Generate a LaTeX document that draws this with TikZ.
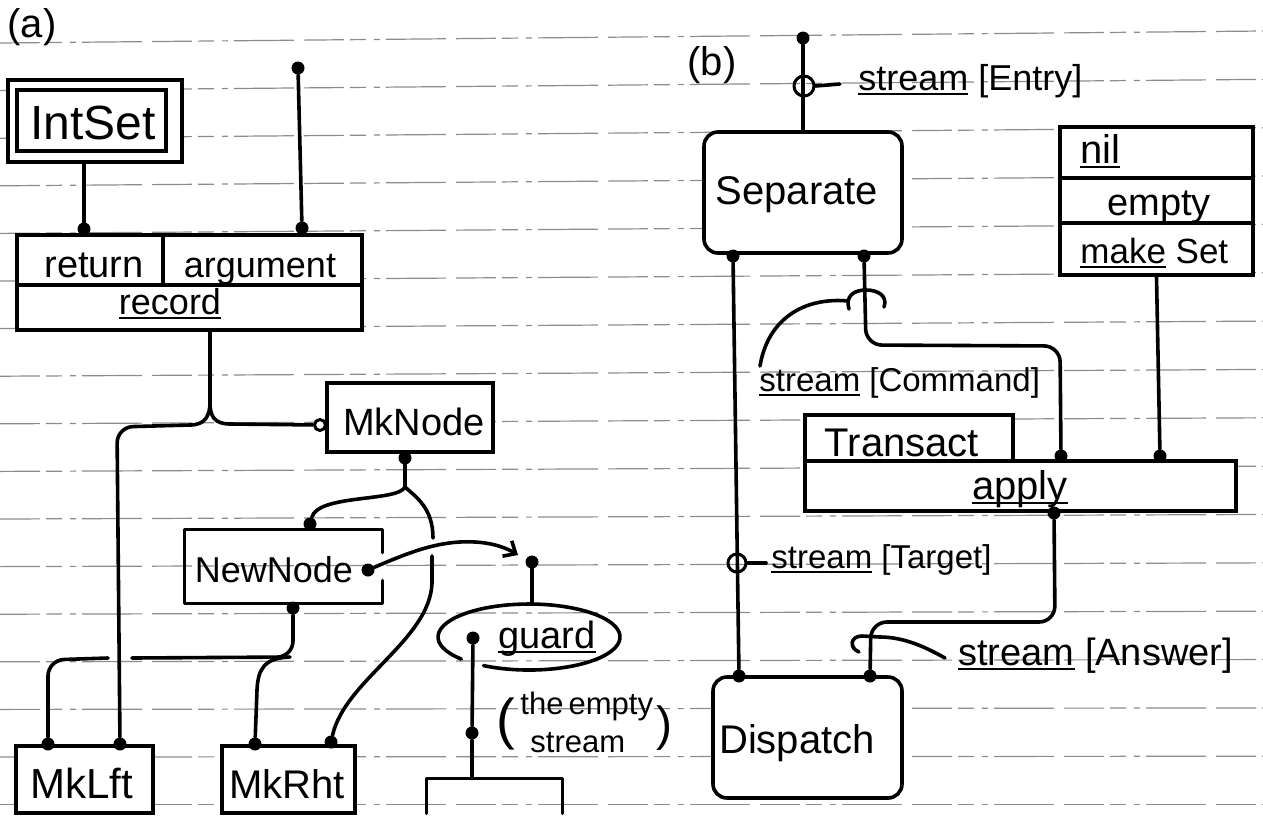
\documentclass[tikz,border=0pt]{standalone}
\usepackage{fontspec}
\setmainfont{Liberation Sans}
\usetikzlibrary{arrows.meta,shapes.geometric,calc}
\newcommand{\hul}[1]{\setbox0\hbox{#1}\rlap{\rule[-2.4pt]{\wd0}{1.1pt}}\box0\relax}
\begin{document}
\begin{tikzpicture}[x=0.5pt,y=-0.5pt,
  ln/.style={line width=1.8pt,line cap=round,line join=round},
  box/.style={draw,line width=1.8pt,fill=white,inner sep=0pt},
  shell/.style={inner sep=0pt},
  dot/.style={circle,fill=black,inner sep=0pt,minimum size=6.5pt},
  odot/.style={circle,draw,fill=white,line width=1.5pt,inner sep=0pt,minimum size=5.5pt},
  loopc/.style={circle,draw,line width=1.5pt,inner sep=0pt,minimum size=#1},
  rule/.style={draw=black!45,line width=0.6pt,dash pattern=on 20pt off 3pt on 8pt off 4pt on 3pt off 3pt on 30pt off 5pt},
  txt/.style={inner sep=0pt,font=\fontsize{#1pt}{#1pt}\selectfont}]
\fill[white] (0,0) rectangle (1263,815);
\useasboundingbox (0,0) rectangle (1263,815);
\foreach \k in {0,...,16}{\pgfmathsetmacro\yl{43+47.6*\k}\pgfmathsetmacro\yr{\yl-12*(1-\k/16)}\draw[rule] (0,\yl) -- (1263,\yr);}

% ---------------- (a) ----------------
\node[txt=20,anchor=base] (la) at (32,37) {(a)};
\node[box,minimum width=87pt,minimum height=41pt] (intsetO) at (95,121) {};
\node[box,minimum width=74.5pt,minimum height=30.5pt] (intsetI) at (91.5,120.5) {};
\node[txt=24,anchor=base] (intset) at (93,139) {IntSet};

\node[box,minimum width=172.5pt,minimum height=47.5pt] (rec) at (189.5,282.5) {};
\draw[ln] (17,285) -- (362,285);
\draw[ln] (163,235) -- (163,285);
\node[txt=19,anchor=base] (ret) at (94,277) {return};
\node[txt=18,anchor=base] (argm) at (260,277) {argument};
\node[txt=18,anchor=base] (recd) at (170,314) {\hul{record}};

\node[dot] (pin1) at (298,68) {};
\node[dot] (pin2) at (302,228) {};
\draw[ln] (pin1) -- (pin2);
\node[dot] (isd) at (84,229) {};
\draw[ln] (intsetO.south -| isd) -- (isd);

\node[box,minimum width=83pt,minimum height=34.5pt] (mknode) at (410,417.5) {};
\node[txt=19,anchor=base] (mkntxt) at (414,435) {MkNode};
\node[odot] (mkin) at (320,425) {};
\node[dot] (mknd) at (405,458) {};

\node[shell,minimum width=98.5pt,minimum height=36.5pt] (newnode) at (283.5,566.5) {};
\draw[ln] ($(newnode.north east)+(0,23)$) -- (newnode.north east) -- (newnode.north west) -- (newnode.south west) -- (newnode.south east) -- ($(newnode.south east)+(0,-23)$);
\node[txt=18,anchor=base] (nntxt) at (274,582) {NewNode};
\node[dot] (nnt) at (310,524) {};
\node[dot] (nnr) at (368,570) {};
\node[dot] (nnb) at (293,608) {};

\node[shell,ellipse,minimum width=91pt,minimum height=33pt] (guard) at (529,637) {};
\draw[ln] (461.4,659.1) arc[start angle=138,end angle=480,x radius=91,y radius=33];
\node[txt=19,anchor=base] (gtxt) at (547,648) {\hul{guard}};
\node[dot] (gtop) at (532,562) {};
\node[dot] (gin) at (473,638) {};
\node[dot] (gmid) at (472,733) {};
\node[shell,minimum width=67.5pt,minimum height=17pt] (ebox) at (494.5,796) {};
\draw[ln] (ebox.south west) -- (ebox.north west) -- (ebox.north east) -- (ebox.south east);
\draw[ln] (gin) -- (gmid) -- (gmid |- ebox.north);
\draw[ln] (gtop) -- (gtop |- guard.north);

\node[txt=28,anchor=base] (lp) at (506,738) {(};
\node[txt=15.5,anchor=base west] (the) at (520,714) {the\,empty};
\node[txt=15.5,anchor=base west] (strm) at (530,752) {stream};
\node[txt=24,anchor=base] (rp) at (664,740) {)};

\node[box,minimum width=68.5pt,minimum height=33.5pt] (mklft) at (84.5,779.5) {};
\node[txt=21,anchor=base] (mklfttxt) at (82,798) {MkLft};
\node[box,minimum width=66.5pt,minimum height=33.5pt] (mkrht) at (288.5,779.5) {};
\node[txt=20,anchor=base] (mkrhttxt) at (287,798) {MkRht};
\node[dot] (mklftl) at (48,744) {};
\node[dot] (mklftr) at (120,744) {};
\node[dot] (mkrhtl) at (255,744) {};
\node[dot] (mkrhtr) at (331,742) {};

\coordinate (j1) at (210,402);
\draw[ln] (rec.south -| j1) -- (j1);
\draw[ln] (j1) .. controls (210,416) and (214,424) .. (230,424) -- (mkin);
\draw[ln] (j1) .. controls (210,416) and (205,425) .. (190,425);
\draw[ln,rounded corners=8pt] (190,425) -- (117,427) -- (mklftr);

\coordinate (j2) at (405,487);
\draw[ln] (mknd) -- (j2);
\draw[ln] (j2) .. controls (398,502) and (318,494) .. (nnt);
\draw[ln] (j2) .. controls (416,497) and (433,508) .. (433,538);
\draw[ln] (432,556) -- (432,583) .. controls (430,640) and (345,680) .. (mkrhtr);
\draw[ln,-{Straight Barb[length=5pt,width=9pt]}] (nnr) .. controls (410,552) and (440,540) .. (475,542) .. controls (495,543) and (508,549) .. (518,555);

\draw[ln,rounded corners=8pt] (nnb) -- (293,657) -- (132,658);
\draw[ln,rounded corners=8pt] (108,658) -- (48,660) -- (mklftl);
\draw[ln] (290,657) .. controls (265,658) and (258,668) .. (257,690) -- (mkrhtl);

% ---------------- (b) ----------------
\node[txt=20,anchor=base] (lb) at (712,75) {(b)};
\node[dot] (tpin) at (803,38) {};
\node[box,rounded corners=7pt,minimum width=99pt,minimum height=60.5pt] (sep) at (803,192.5) {};
\node[txt=20,anchor=base] (septxt) at (797,204) {Separate};
\node[loopc=10pt] (eloop) at (804,86) {};
\coordinate (edash) at (840,84);
\draw[ln] (tpin) -- (sep.north);
\draw[ln] (eloop.east) -- (edash);
\node[txt=18,anchor=base west] (entry) at (858,90) {\hul{stream} [Entry]};

\node[dot] (sl) at (733,256) {};
\node[dot] (sr) at (864,256) {};
\node[box,rounded corners=7pt,minimum width=94.5pt,minimum height=60.5pt] (disp) at (807.5,737.5) {};
\node[txt=20,anchor=base] (disptxt) at (797,753) {Dispatch};
\node[dot] (dl) at (739,676) {};
\node[dot] (dr) at (870,676) {};
\draw[ln] (sl) -- (dl);
\node[loopc=9pt] (tloop) at (737,563) {};
\coordinate (tdash) at (766,563);
\draw[ln] (tloop.east) -- (tdash);
\node[txt=16.5,anchor=base west] (target) at (771,568) {\hul{stream} [Target]};

\node[box,minimum width=96.5pt,minimum height=74pt] (mset) at (1156.5,201) {};
\draw[ln] (1060,178) -- (1253,178);
\draw[ln] (1060,223) -- (1253,223);
\node[txt=20,anchor=base west] (nil) at (1080,163) {\hul{nil}};
\node[txt=19,anchor=base] (empty) at (1159,215) {empty};
\node[txt=17.5,anchor=base west] (mkset) at (1080,263) {\hul{make} Set};

\node[box,minimum width=215.5pt,minimum height=25pt] (apply) at (1020.5,486) {};
\node[box,minimum width=104pt,minimum height=23pt] (trans) at (909,438) {};
\node[txt=20,anchor=base] (transtxt) at (902,456) {Transact};
\node[txt=20,anchor=base] (applytxt) at (1020,499) {\hul{apply}};
\node[dot] (cmddot) at (1061,456) {};
\node[dot] (setdot) at (1160,456) {};
\node[dot] (appdot) at (1054,513) {};

\draw[ln] (mset.south) -- (setdot);
\draw[ln,rounded corners=8pt] (sr) -- (866,345) -- (1060,346) -- (cmddot);
\draw[ln] (849,309) .. controls (845,296) and (854,290) .. (866,290) .. controls (878,290) and (888,296) .. (884,307);
\coordinate (cmdend) at (760,366);
\draw[ln] (848,301) .. controls (805,297) and (768,318) .. (cmdend);
\node[txt=16.5,anchor=base west] (cmd) at (759,391) {\hul{stream} [Command]};

\draw[ln,rounded corners=8pt] (appdot) -- (1055,622) -- (871,622) -- (dr);
\draw[ln] (859,652) .. controls (849,648) and (850,636) .. (862,636) -- (880,637) .. controls (905,637) and (927,648) .. (945,658);
\node[txt=19,anchor=base west] (answer) at (958,665) {\hul{stream} [Answer]};
\end{tikzpicture}
\end{document}
